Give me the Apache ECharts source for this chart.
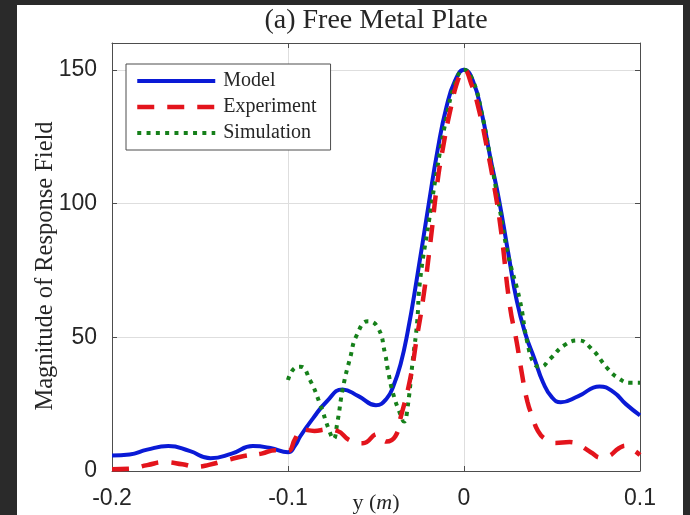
<!DOCTYPE html>
<html><head><meta charset="utf-8">
<script src="https://cdn.jsdelivr.net/npm/echarts@6/dist/echarts.min.js"></script>
<style>
html,body{margin:0;padding:0;background:#2a2a2a;width:690px;height:515px;overflow:hidden;}
#paper{position:absolute;left:17px;top:5px;width:666px;height:510px;background:#fff;}
#chart{position:absolute;left:0;top:0;width:690px;height:515px;}
</style></head><body>
<div id="paper"></div><div id="chart"></div>
<script>
const titleText = '(a) Free Metal Plate';
const seriesNames = ['Model', 'Experiment', 'Simulation'];
const xTicks = [-0.2, -0.1, 0, 0.1];
const yTicks = [0, 50, 100, 150];

const modelX = [-0.200,-0.190,-0.180,-0.168,-0.156,-0.144,-0.132,-0.120,-0.110,-0.100,
  -0.096,-0.093,-0.086,-0.078,-0.069,-0.060,-0.050,-0.044,-0.040,-0.036,
  -0.032,-0.027,-0.020,-0.015,-0.010,-0.005,0,0.005,0.010,0.015,
  0.020,0.025,0.030,0.035,0.040,0.045,0.050,0.055,0.065,0.077,
  0.085,0.092,0.100];
const modelY = [5.8,6.2,8.0,9.3,7.5,4.8,6.5,9.3,8.6,7,
  9.5,13,19.5,26,30.5,28,24.6,27,32,40,
  52,71,100,120,136,146,150,146,134,117,
  101,82,63.6,51,42,33,27.5,25.7,28,31.6,
  29.5,25,20.8];

const expX = [-0.200,-0.190,-0.180,-0.170,-0.160,-0.152,-0.145,-0.135,-0.125,-0.115,
  -0.107,-0.100,-0.096,-0.092,-0.085,-0.078,-0.072,-0.065,-0.0575,-0.049,
  -0.044,-0.039,-0.0364,-0.0307,-0.027,-0.0233,-0.019,-0.0153,-0.0119,-0.0074,
  -0.003,0,0.004,0.0085,0.013,0.017,0.021,0.026,0.030,0.033,
  0.036,0.039,0.042,0.046,0.052,0.060,0.066,0.072,0.078,0.082,
  0.088,0.092,0.096,0.100];
const expY = [0.7,0.9,2.2,3.3,2.5,1.6,2.3,4,5.6,6.5,
  7.8,7.5,12,15.5,15,15.5,15,11.5,10.4,13.8,
  11,13,19,34,49,64,86,107,121,136,
  147,150,145,135,121,107,90,62,48,36,
  26,20,15,12,10.5,10.8,9.5,7,5,5.5,
  8.5,9.5,8,6];

const simX = [-0.100,-0.097,-0.093,-0.0875,-0.0818,-0.0765,-0.0742,-0.072,-0.0688,-0.0648,
  -0.0608,-0.0545,-0.0489,-0.0449,-0.0432,-0.0403,-0.0364,-0.0340,-0.0324,-0.029,
  -0.0267,-0.025,-0.020,-0.015,-0.010,-0.005,0,0.005,0.010,0.015,
  0.020,0.025,0.0318,0.036,0.040,0.0435,0.049,0.057,0.065,0.072,
  0.082,0.088,0.094,0.100];
const simY = [34,38,39,34,25,15,12,18,31,42,
  51,56,53.6,44,37.6,29,21.6,18.5,22,42,
  55,71,93,114,132,145,150,146,134,117,
  99,81,63.6,48,40,39,42,47,48.8,46,
  38,34.6,33,33];

const zip = (xs, ys) => xs.map((x, i) => [x, ys[i]]);
const axisColor = '#4d4d4d';
const textColor = '#262626';
const serif = 'Liberation Serif';
const sans = 'Liberation Sans';

const chart = echarts.init(document.getElementById('chart'), null, {renderer: 'canvas', width: 690, height: 515});
chart.setOption({
  animation: false,
  backgroundColor: 'transparent',
  title: {
    text: titleText, left: 376, top: 7, textAlign: 'center', padding: 0,
    textStyle: {fontFamily: serif, fontSize: 28, fontWeight: 'normal', color: textColor}
  },
  legend: {
    data: seriesNames, orient: 'vertical', left: 126, top: 64,
    padding: [7, 14, 7, 9], itemGap: 6, itemWidth: 78, itemHeight: 14,
    borderColor: axisColor, borderWidth: 1, backgroundColor: '#fff',
    itemStyle: {opacity: 0},
    lineStyle: {width: 'inherit'},
    textStyle: {fontFamily: serif, fontSize: 20, color: textColor, padding: [0, 0, 0, 3]}
  },
  grid: {left: 112, right: 50, top: 43, bottom: 44, containLabel: false, outerBoundsMode: 'none'},
  xAxis: [{
    type: 'value', min: xTicks[0], max: xTicks[xTicks.length - 1], interval: 0.1, position: 'bottom',
    axisLine: {show: true, onZero: false, lineStyle: {color: axisColor, width: 1}},
    axisTick: {show: true, inside: true, length: 5, lineStyle: {color: axisColor}},
    axisLabel: {margin: 16, color: textColor, fontFamily: sans, fontSize: 23,
      formatter: v => String(Math.round(v * 10) / 10)},
    splitLine: {show: true, lineStyle: {color: '#dedede', width: 1}},
    name: '{a|y (}{b|m}{a|)}', nameLocation: 'middle', nameGap: 21, nameMoveOverlap: false,
    nameTextStyle: {rich: {
      a: {fontFamily: serif, fontSize: 22, color: textColor},
      b: {fontFamily: serif, fontStyle: 'italic', fontSize: 22, color: textColor}
    }}
  }, {
    type: 'value', min: xTicks[0], max: xTicks[xTicks.length - 1], interval: 0.1, position: 'top',
    axisLine: {show: true, onZero: false, lineStyle: {color: axisColor, width: 1}},
    axisTick: {show: true, inside: true, length: 5, lineStyle: {color: axisColor}},
    axisLabel: {show: false}, splitLine: {show: false}
  }],
  yAxis: [{
    type: 'value', min: yTicks[0], max: 160, interval: 50, position: 'left',
    axisLine: {show: true, onZero: false, lineStyle: {color: axisColor, width: 1}},
    axisTick: {show: true, inside: true, length: 5, lineStyle: {color: axisColor}},
    axisLabel: {margin: 15, color: textColor, fontFamily: sans, fontSize: 23, showMaxLabel: false},
    splitLine: {show: true, lineStyle: {color: '#dedede', width: 1}},
    name: 'Magnitude of Response Field', nameLocation: 'middle', nameGap: 54, nameMoveOverlap: false,
    nameTextStyle: {fontFamily: serif, fontSize: 24.5, color: textColor, padding: [0, 18, 0, 0]}
  }, {
    type: 'value', min: yTicks[0], max: 160, interval: 50, position: 'right',
    axisLine: {show: true, onZero: false, lineStyle: {color: axisColor, width: 1}},
    axisTick: {show: true, inside: true, length: 5, lineStyle: {color: axisColor}},
    axisLabel: {show: false}, splitLine: {show: false}
  }],
  series: [{
    name: seriesNames[0], type: 'line', data: zip(modelX, modelY),
    symbol: 'none', showSymbol: false, smooth: 0.5, z: 2,
    lineStyle: {color: '#0a1ad6', width: 4}, itemStyle: {color: '#0a1ad6'}
  }, {
    name: seriesNames[1], type: 'line', data: zip(expX, expY),
    symbol: 'none', showSymbol: false, smooth: 0.5, z: 4,
    lineStyle: {color: '#e3141c', width: 4.5, type: [17, 13]}, itemStyle: {color: '#e3141c'}
  }, {
    name: seriesNames[2], type: 'line', data: zip(simX, simY),
    symbol: 'none', showSymbol: false, smooth: 0.5, z: 3,
    lineStyle: {color: '#16801a', width: 4, type: [4, 5.3]}, itemStyle: {color: '#16801a'}
  }]
});
</script>
</body></html>
